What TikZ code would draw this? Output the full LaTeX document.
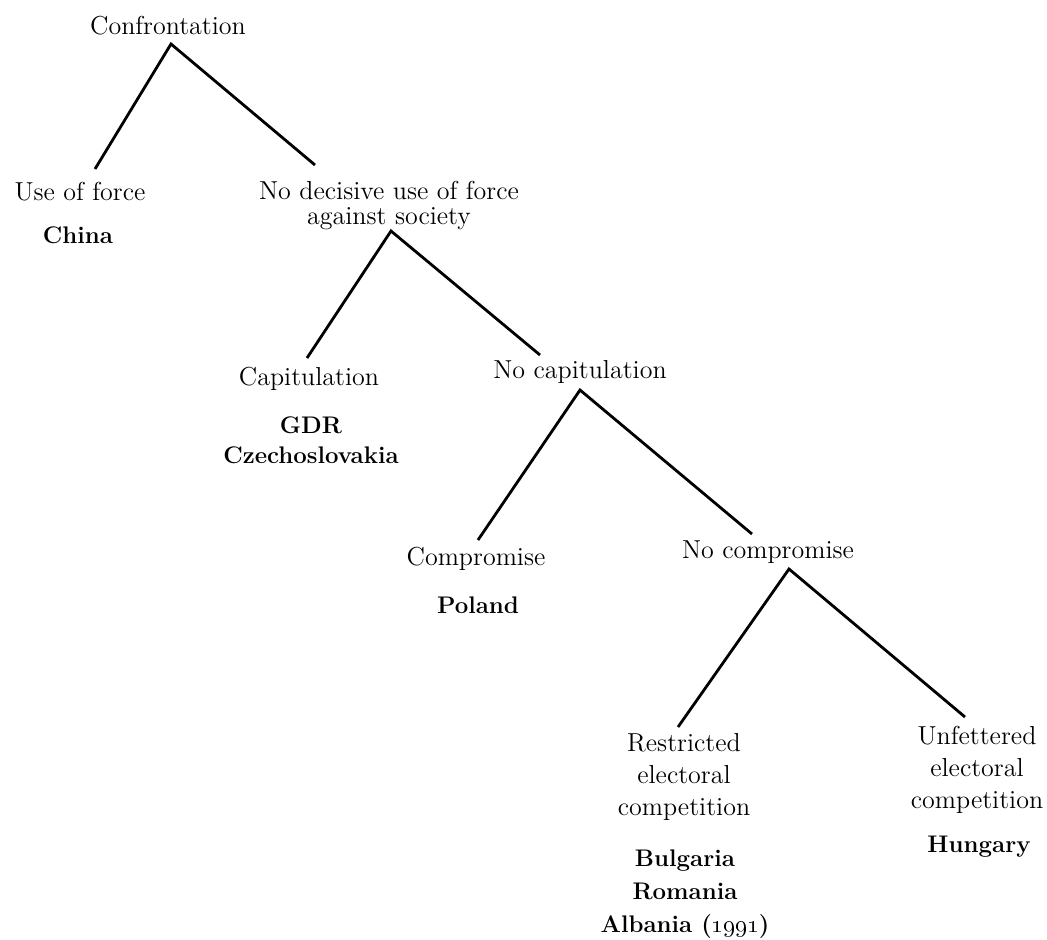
\documentclass[tikz,border=0pt]{standalone}
\usetikzlibrary{positioning}

\begin{document}
\begin{tikzpicture}[x=0.5pt,y=-0.5pt]
		\useasboundingbox (0,0) rectangle (1047,939);

		% labels (base = last line)
		\begin{scope}[every node/.style={anchor=base,inner sep=0pt,align=center,font=\fontsize{13}{16}\selectfont}]
			\node (conf) at (168,34) {Confrontation};
			\node (force) at (80,200) {Use of force};
			\node[font=\fontsize{13}{12.5}\selectfont] (nodec) at (389,224) {No decisive use of force\\against society};
			\node (capit) at (309,385) {Capitulation};
			\node (nocap) at (580,378) {No capitulation};
			\node (compr) at (476,565) {Compromise};
			\node (nocomp) at (768,558) {No compromise};
			\node (restr) at (684,815) {Restricted\\electoral\\competition};
			\node (unfet) at (977,808) {Unfettered\\electoral\\competition};
		\end{scope}

		\begin{scope}[every node/.style={anchor=base,inner sep=0pt,align=center,font=\fontsize{12}{15}\selectfont\bfseries}]
			\node (china) at (78,243) {China};
			\node (gdr) at (311,463) {GDR\\Czechoslovakia};
			\node (poland) at (478,613) {Poland};
			\node[font=\fontsize{12}{16.5}\selectfont\bfseries] (bulg) at (685,932) {Bulgaria\\Romania\\Albania (\oldstylenums{1991})};
			\node (hung) at (979,852) {Hungary};
		\end{scope}

		% branch points
		\coordinate (t1) at (171,44);
		\coordinate (t1-l) at (95,169);
		\coordinate (t1-r) at (315,165);
		\coordinate (t2) at (391,231);
		\coordinate (t2-l) at (307,358);
		\coordinate (t2-r) at (540,355);
		\coordinate (t3) at (580,390);
		\coordinate (t3-l) at (478,540);
		\coordinate (t3-r) at (752,534);
		\coordinate (t4) at (789,569);
		\coordinate (t4-l) at (678,727);
		\coordinate (t4-r) at (965,717);

		\begin{scope}[line width=1.4pt]
			\draw (t1-l) -- (t1) -- (t1-r);
			\draw (t2-l) -- (t2) -- (t2-r);
			\draw (t3-l) -- (t3) -- (t3-r);
			\draw (t4-l) -- (t4) -- (t4-r);
		\end{scope}
	\end{tikzpicture}
\end{document}
